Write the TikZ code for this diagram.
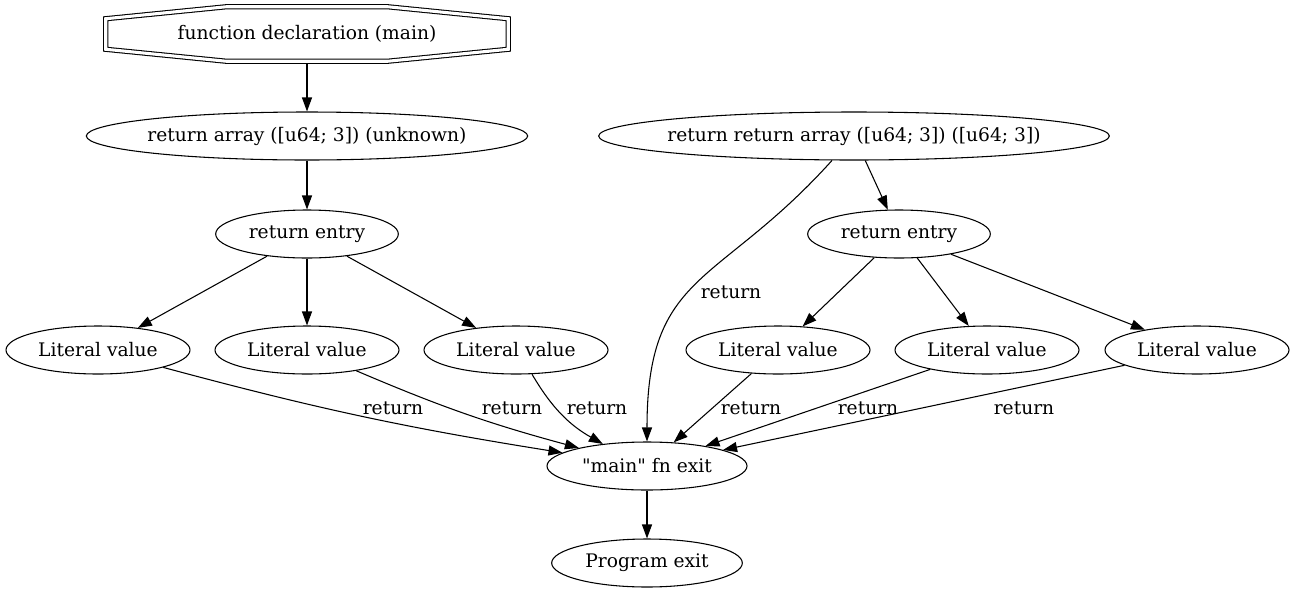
\documentclass[tikz,border=0pt]{standalone}
\usepackage{fontspec}
\setmainfont{DejaVu Serif}
\usetikzlibrary{shapes.geometric,arrows.meta,calc}

\tikzset{
  blob/.style={ellipse, draw, line width=0.8pt, minimum height=36pt, inner ysep=0pt, inner xsep=-12pt},
  flow/.style={-{Triangle[length=10.5pt,width=7.5pt]}, line width=0.8pt},
  lbl/.style={inner sep=0pt},
}

\begin{document}
\begin{tikzpicture}[x=0.75pt, y=0.75pt, font=\fontsize{14}{16}\selectfont]
  \useasboundingbox (0,0) rectangle (1295,-593); % phantom

  \node[minimum width=301.5pt, minimum height=40.5pt, inner sep=0pt] (decl) at (307,-34) {function declaration (main)};
  \draw[line width=0.8pt, double, double distance=2.3pt]
        ($(decl.north west)!.3!(decl.north east)$) -- ($(decl.north west)!.7!(decl.north east)$)
     -- ($(decl.north east)!.22!(decl.south east)$) -- ($(decl.north east)!.78!(decl.south east)$)
     -- ($(decl.south west)!.7!(decl.south east)$) -- ($(decl.south west)!.3!(decl.south east)$)
     -- ($(decl.north west)!.78!(decl.south west)$) -- ($(decl.north west)!.22!(decl.south west)$)
     -- cycle;

  \node[blob, minimum width=331pt] (arr) at (307,-136) {return array ([u64; 3]) (unknown)};
  \node[blob, minimum width=383pt] (rarr) at (854,-136) {return return array ([u64; 3]) ([u64; 3])};

  \node[blob, minimum width=137pt] (entl) at (307,-234) {return entry};
  \node[blob, minimum width=137pt] (entr) at (899,-234) {return entry};

  \node[blob, minimum width=138pt] (lit1) at (98,-350)  {Literal value};
  \node[blob, minimum width=138pt] (lit2) at (307,-350) {Literal value};
  \node[blob, minimum width=138pt] (lit3) at (516,-350) {Literal value};
  \node[blob, minimum width=138pt] (lit4) at (778,-350) {Literal value};
  \node[blob, minimum width=138pt] (lit5) at (987,-350) {Literal value};
  \node[blob, minimum width=138pt] (lit6) at (1197,-350) {Literal value};

  \node[blob, minimum width=150pt] (fnexit) at (647,-466) {\textquotedbl main\textquotedbl{} fn exit};
  \node[blob, minimum width=143pt] (progexit) at (647,-563) {Program exit};

  \draw[flow, shorten <=1.6pt] (decl) -- (arr);
  \draw[flow] (arr) -- (entl);
  \draw[flow] (entl) -- (lit1);
  \draw[flow] (entl) -- (lit2);
  \draw[flow] (entl) -- (lit3);
  \draw[flow] (rarr) -- (entr);
  \draw[flow] (entr) -- (lit4);
  \draw[flow] (entr) -- (lit5);
  \draw[flow] (entr) -- (lit6);

  \draw[flow] (lit1) to[bend right=3] (fnexit) node[lbl] at (393,-408) {return};
  \draw[flow] (lit2) to[bend right=4] (fnexit) node[lbl] at (512,-408) {return};
  \draw[flow] (lit3) to[bend right=15] (fnexit) node[lbl] at (597,-408) {return};
  \draw[flow] (rarr) to[out=228, in=90, looseness=1.3] (fnexit) node[lbl] at (731,-292) {return};
  \draw[flow] (lit4) -- (fnexit) node[lbl] at (751,-408) {return};
  \draw[flow] (lit5) -- (fnexit) node[lbl] at (868,-408) {return};
  \draw[flow] (lit6) -- (fnexit) node[lbl] at (1024,-408) {return};

  \draw[flow] (fnexit) -- (progexit);
\end{tikzpicture}
\end{document}
